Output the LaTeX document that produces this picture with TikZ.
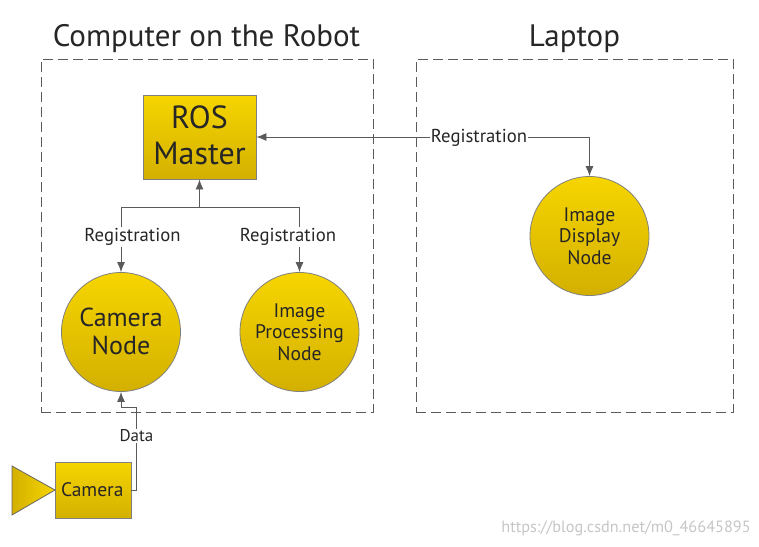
\documentclass[tikz,border=0pt]{standalone}
\usepackage{fontspec}
\setmainfont{PT Sans}
\usepackage{tikz}
\usetikzlibrary{arrows.meta}
\definecolor{goldtop}{HTML}{F6D500}
\definecolor{goldbot}{HTML}{D3B000}
\definecolor{wire}{HTML}{5A5A5A}
\definecolor{ink}{HTML}{262626}
\tikzstyle{hostbox} = [draw=wire, dash pattern=on 10pt off 5pt, line width=0.9pt, inner sep=0pt]
\tikzstyle{title} = [font=\fontsize{31}{31}\selectfont, text=ink]
\tikzstyle{rosnode} = [circle, draw=gray, line width=0.8pt, top color=goldtop, bottom color=goldbot, minimum width=119pt, inner sep=0pt, align=center, text=ink]
\tikzstyle{rosbox} = [rectangle, draw=gray, line width=0.9pt, top color=goldtop, bottom color=goldbot, inner sep=0pt, align=center, text=ink]
\tikzstyle{wire} = [draw=wire, line width=0.9pt]
\tikzstyle{tag} = [fill=white, inner sep=1pt, font=\fontsize{18.7}{18.7}\selectfont, text=ink]
\tikzstyle{tip} = [{Latex[length=10pt,width=8pt]}-{Latex[length=10pt,width=8pt]}]

\begin{document}
\begin{tikzpicture}[x=1pt, y=-1pt]
        \useasboundingbox (0,0) rectangle (759,546);
        % hosts
        \node (robot) [hostbox, minimum width=332pt, minimum height=353pt] at (207,235.5) {};
        \node (laptop) [hostbox, minimum width=317pt, minimum height=353pt] at (574.5,235.5) {};
        \node (robottitle) [title] at (206.5,39) {Computer on the Robot};
        \node (laptoptitle) [title] at (574.5,39) {Laptop};
        % nodes
        \node (master) [rosbox, minimum width=113pt, minimum height=84pt, font=\fontsize{32}{36}\selectfont] at (199.5,137) {ROS\\Master\rule[-4pt]{0pt}{4pt}};
        \node (camnode) [rosnode, font=\fontsize{26}{28.5}\selectfont] at (121,332) {Camera\\Node\rule[-2pt]{0pt}{2pt}};
        \node (procnode) [rosnode, font=\fontsize{19.6}{21.5}\selectfont] at (299.5,332) {Image\\Processing\\Node};
        \node (dispnode) [rosnode, font=\fontsize{19.6}{21.5}\selectfont] at (589.5,236) {Image\\Display\\Node};
        \node (camera) [rosbox, minimum width=76pt, minimum height=56pt, font=\fontsize{19.5}{21}\selectfont, text width=64pt, align=left] at (93,490) {Camera};
        \draw [draw=gray!80!black, line width=0.8pt, left color=goldbot, right color=goldtop] (12,466) -- (55,490) -- (12,515) -- cycle;
        % connectors
        \coordinate (split) at (master.south |- 0,207);
        \draw [wire, tip] (master.south) -- (split) -| (camnode.north);
        \draw [wire, -{Latex[length=10pt,width=8pt]}] (split) -| (procnode.north);
        \draw [wire, tip] (master.east) -- (dispnode.north |- master.east) -- (dispnode.north);
        \coordinate (dataup) at (136,407);
        \draw [wire, -{Latex[length=10pt,width=8pt]}] (camera.east) -| (dataup) -| (camnode.south);
        % labels
        \node (regcam) [tag] at (132.5,237) {Registration};
        \node (regproc) [tag] at (288,237) {Registration};
        \node (regdisp) [tag] at (479,138) {Registration};
        \node (datalabel) [tag, font=\fontsize{17}{17}\selectfont] at (136.5,436) {Data};
        \node (mark) [font=\fontsize{16.3}{16.3}\selectfont, text=gray!45] at (626,528) {https://blog.csdn.net/m0\_46645895};
    \end{tikzpicture}
\end{document}
